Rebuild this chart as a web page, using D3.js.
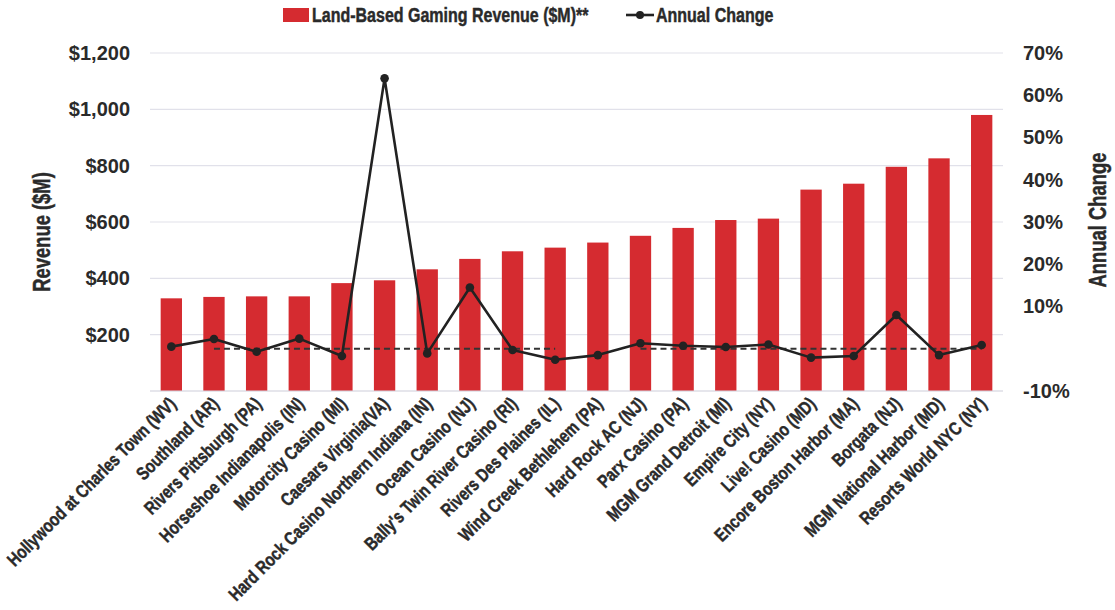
<!DOCTYPE html>
<html>
<head>
<meta charset="utf-8">
<script src="https://cdn.jsdelivr.net/npm/d3@7"></script>
<style>
  html, body { margin: 0; padding: 0; background: #ffffff; }
  svg { display: block; }
  .narrow { font-family: "Liberation Sans", Arial, sans-serif; font-weight: bold; stroke: #2a2a2a; stroke-width: 0.45; }
  .tick text { font-family: "Liberation Sans", Arial, sans-serif; font-weight: bold; }
</style>
</head>
<body>
<script>
const categories = [
  "Hollywood at Charles Town (WV)", "Southland (AR)", "Rivers Pittsburgh (PA)",
  "Horseshoe Indianapolis (IN)", "Motorcity Casino (MI)", "Caesars Virginia(VA)",
  "Hard Rock Casino Northern Indiana (IN)", "Ocean Casino (NJ)", "Bally's Twin River Casino (RI)",
  "Rivers Des Plaines (IL)", "Wind Creek Bethlehem (PA)", "Hard Rock AC (NJ)",
  "Parx Casino (PA)", "MGM Grand Detroit (MI)", "Empire City (NY)", "Live! Casino (MD)",
  "Encore Boston Harbor (MA)", "Borgata (NJ)", "MGM National Harbor (MD)", "Resorts World NYC (NY)"
];
const revenue = [329, 334, 336, 336, 383, 393, 432, 469, 496, 509, 527, 551, 579, 607, 612, 715, 736, 796, 826, 980];
const annualChange = [0.5, 2.3, -0.7, 2.4, -1.7, 64.0, -1.1, 14.5, -0.3, -2.6, -1.5, 1.3, 0.7, 0.4, 1.0, -2.1, -1.7, 8.0, -1.5, 0.9];
// dashed zero reference line (drawn in two segments in the original)
const zeroRef = [null, 0, 0, 0, 0, 0, 0, 0, 0, 0, null, 0, 0, 0, 0, 0, 0, 0, 0, 0];
const leftTicks = [0, 200, 400, 600, 800, 1000, 1200];
const leftTickLabels = ["", "$200", "$400", "$600", "$800", "$1,000", "$1,200"];
const rightTicks = [-10, 10, 20, 30, 40, 50, 60, 70];
const rightTickLabels = ["-10%", "10%", "20%", "30%", "40%", "50%", "60%", "70%"];
const legendLabels = ["Land-Based Gaming Revenue ($M)**", "Annual Change"];
const axisTitles = ["Revenue ($M)", "Annual Change"];

const W = 1115, H = 610;
const m = { left: 150, right: 1003, top: 53, bottom: 391 };
const barColor = "#d52b30";
const lineColor = "#222222";
const textColor = "#2a2a2a";
const SX = 0.8; // horizontal condensation for narrow bold text

const svg = d3.select("body").append("svg").attr("width", W).attr("height", H);

const x = d3.scaleBand().domain(categories).range([m.left, m.right]).paddingInner(0.5).paddingOuter(0.25);
const yL = d3.scaleLinear().domain([0, 1200]).range([m.bottom, m.top]);
const yR = d3.scaleLinear().domain([-10, 70]).range([m.bottom, m.top]);

// gridlines
svg.append("g").selectAll("line").data(leftTicks).join("line")
  .attr("x1", m.left).attr("x2", m.right)
  .attr("y1", d => yL(d)).attr("y2", d => yL(d))
  .attr("stroke", "#e1e1ea").attr("stroke-width", 1.2);

// left axis
const leftAxis = d3.axisLeft(yL).tickValues(leftTicks)
  .tickFormat((d, i) => leftTickLabels[i]).tickSize(0).tickPadding(20);
const gL = svg.append("g").attr("transform", `translate(${m.left},0)`).call(leftAxis);
gL.select(".domain").remove();
gL.selectAll("text").attr("font-size", 20).attr("fill", textColor);

// right axis
const rightAxis = d3.axisRight(yR).tickValues(rightTicks)
  .tickFormat((d, i) => rightTickLabels[i]).tickSize(0).tickPadding(20);
const gR = svg.append("g").attr("transform", `translate(${m.right},0)`).call(rightAxis);
gR.select(".domain").remove();
gR.selectAll("text").attr("font-size", 20).attr("fill", textColor);

// bars
svg.append("g").selectAll("rect").data(revenue).join("rect")
  .attr("x", (d, i) => x(categories[i]))
  .attr("width", x.bandwidth())
  .attr("y", d => yL(d))
  .attr("height", d => yL(0) - yL(d))
  .attr("fill", barColor);

// bottom axis line
svg.append("line").attr("x1", m.left).attr("x2", m.right)
  .attr("y1", yL(0)).attr("y2", yL(0)).attr("stroke", "#dcdce4").attr("stroke-width", 1.2);

const cx = i => x(categories[i]) + x.bandwidth() / 2;

// dashed zero reference
const dashLine = d3.line().defined(d => d !== null).x((d, i) => cx(i)).y(d => yR(d));
svg.append("path").datum(zeroRef).attr("d", dashLine)
  .attr("fill", "none").attr("stroke", "#333").attr("stroke-width", 2).attr("stroke-dasharray", "6,4");

// annual change line
const line = d3.line().x((d, i) => cx(i)).y(d => yR(d));
svg.append("path").datum(annualChange).attr("d", line)
  .attr("fill", "none").attr("stroke", lineColor).attr("stroke-width", 2.6).attr("stroke-linejoin", "round");
svg.append("g").selectAll("circle").data(annualChange).join("circle")
  .attr("cx", (d, i) => cx(i)).attr("cy", d => yR(d)).attr("r", 4.3).attr("fill", lineColor);

// x labels
svg.append("g").selectAll("text").data(categories).join("text")
  .attr("class", "narrow")
  .attr("text-anchor", "end")
  .attr("font-size", 18.5)
  .attr("fill", textColor)
  .attr("transform", (d, i) => `translate(${cx(i) + 6},${m.bottom + 14}) rotate(-45) scale(${SX},1)`)
  .text(d => d);

// axis titles
svg.append("text").attr("class", "narrow").attr("font-size", 23).attr("fill", textColor)
  .attr("text-anchor", "middle")
  .attr("transform", `translate(50,232) rotate(-90) scale(${SX},1)`).text(axisTitles[0]);
svg.append("text").attr("class", "narrow").attr("font-size", 23).attr("fill", textColor)
  .attr("text-anchor", "middle")
  .attr("transform", `translate(1106,220) rotate(-90) scale(${SX},1)`).text(axisTitles[1]);

// legend
const lg = svg.append("g");
lg.append("rect").attr("x", 283).attr("y", 8).attr("width", 26).attr("height", 14).attr("fill", barColor);
lg.append("text").attr("class", "narrow").attr("font-size", 20)
  .attr("transform", `translate(312,22) scale(${SX},1)`)
  .attr("fill", textColor).text(legendLabels[0]);
lg.append("line").attr("x1", 626).attr("x2", 654).attr("y1", 15).attr("y2", 15)
  .attr("stroke", lineColor).attr("stroke-width", 2.6);
lg.append("circle").attr("cx", 640).attr("cy", 15).attr("r", 4).attr("fill", lineColor);
lg.append("text").attr("class", "narrow").attr("font-size", 20)
  .attr("transform", `translate(656,22) scale(${SX},1)`)
  .attr("fill", textColor).text(legendLabels[1]);
</script>
</body>
</html>
